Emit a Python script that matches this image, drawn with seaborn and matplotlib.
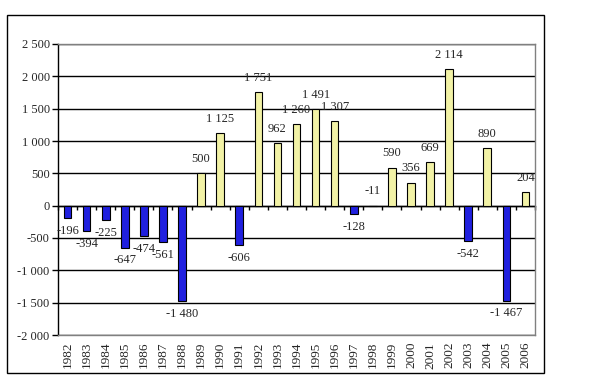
import pandas as pd
import seaborn as sns
import matplotlib.pyplot as plt
from matplotlib.patches import Rectangle

# data
years = [str(y) for y in range(1982, 2007)]
values = [-196, -394, -225, -647, -474, -561, -1480, 500, 1125, -606,
          1751, 962, 1260, 1491, 1307, -128, -11, 590, 356, 669,
          2114, -542, 890, -1467, 204]
y_ticks = list(range(-2000, 2501, 500))

df = pd.DataFrame({'year': years, 'value': values})
df['sign'] = ['neg' if v < 0 else 'pos' for v in values]

def fmt(v):
    return f"{v:,}".replace(",", " ")

sns.set_style('white')
plt.rcParams['font.family'] = ['Liberation Serif', 'DejaVu Serif']

fig = plt.figure(figsize=(6.05, 3.86), dpi=100)
ax = fig.add_axes([58 / 605, 1 - 335 / 386, (535 - 58) / 605, (335 - 44) / 386])

sns.barplot(data=df, x='year', y='value', hue='sign',
            palette={'neg': '#0000FF', 'pos': '#FFFF99'},
            dodge=False, width=0.4, edgecolor='black', linewidth=0.8,
            legend=False, ax=ax)

ymin, ymax = y_ticks[0], y_ticks[-1]
ax.set_ylim(ymin, ymax)
ax.set_xlim(-0.5, len(years) - 0.5)
ax.set_yticks(y_ticks)
ax.set_yticklabels([fmt(t) for t in y_ticks], fontsize=9)
ax.set_axisbelow(True)
ax.yaxis.grid(True, color='black', lw=1)
ax.set_xlabel('')
ax.set_ylabel('')

# frame: gray, left axis black
for s in ['top', 'right', 'bottom']:
    ax.spines[s].set_color('#808080')
    ax.spines[s].set_linewidth(1)
ax.spines['left'].set_color('black')
ax.spines['left'].set_linewidth(1)
ax.tick_params(axis='y', direction='out', length=4, width=1, color='black', pad=2, left=True)

# category labels at the bottom, no ticks
ax.set_xticks(range(len(years)))
ax.set_xticklabels(years, rotation=90, fontsize=9.5)
ax.tick_params(axis='x', length=0, pad=5)

# zero line with boundary ticks
y0 = (0 - ymin) / (ymax - ymin)
sec = ax.secondary_xaxis(y0)
sec.set_xticks([i + 0.5 for i in range(-1, len(years))])
sec.set_xticklabels([])
sec.tick_params(axis='x', direction='out', length=3, width=1, color='black')
sec.spines['bottom'].set_color('black')
sec.spines['bottom'].set_linewidth(1)

# value labels (the tiny -11 sits above the axis in the original)
for i, v in enumerate(values):
    if v >= 0 or v > -50:
        ax.annotate(fmt(v), (i, max(v, 0)), xytext=(0, 6), textcoords='offset points',
                    ha='center', va='bottom', fontsize=9)
    else:
        ax.annotate(fmt(v), (i, v), xytext=(0, -5), textcoords='offset points',
                    ha='center', va='top', fontsize=9)

# outer chart border
fig.add_artist(Rectangle((7 / 605, 1 - 373 / 386), (544 - 7) / 605, (373 - 15) / 386,
                         transform=fig.transFigure, fill=False, ec='black', lw=1))

plt.savefig('out.png', dpi=100)
